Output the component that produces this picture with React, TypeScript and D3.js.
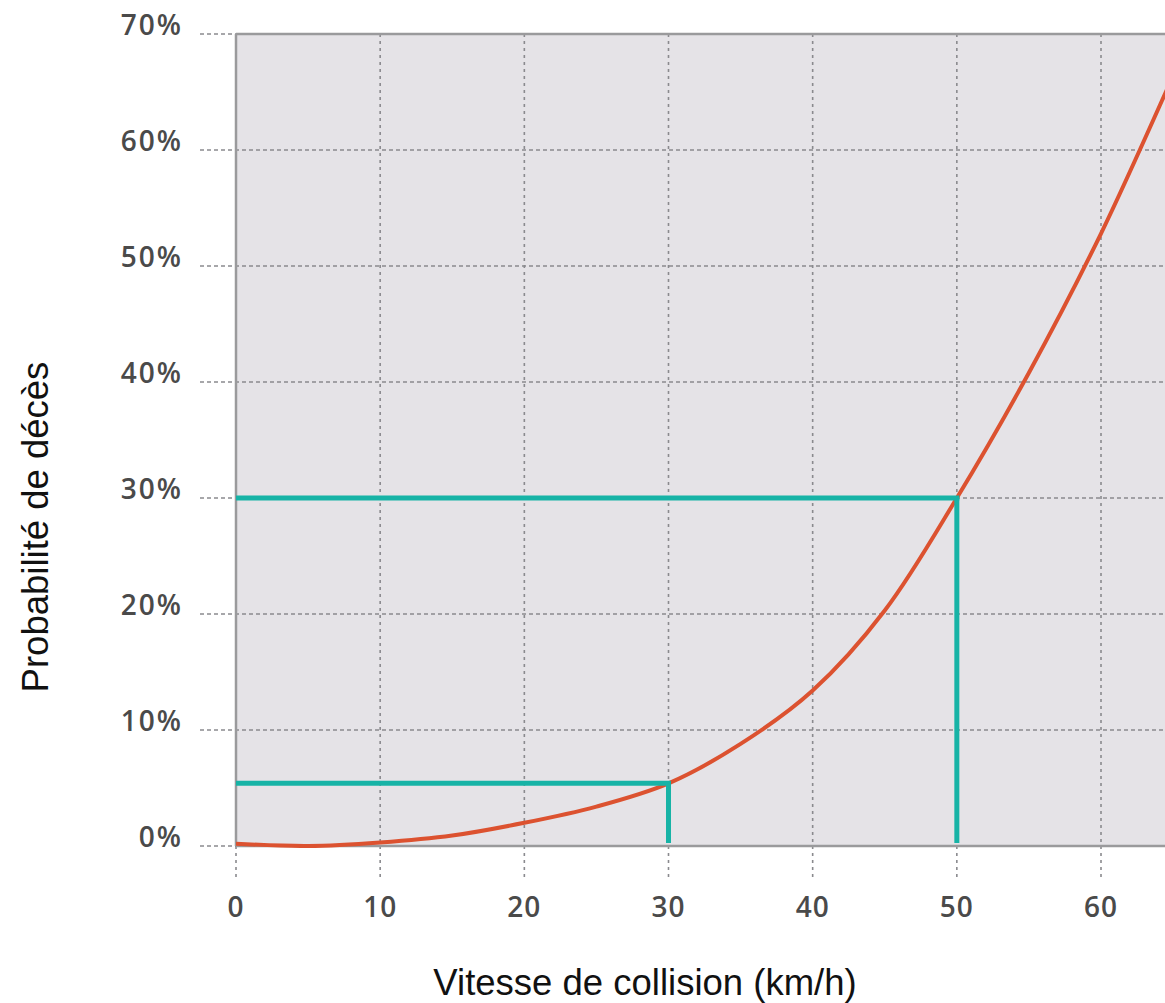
import React from "react";
import * as d3 from "d3";

const speeds = [0, 5, 10, 15, 20, 25, 30, 35, 40, 45, 50, 55, 60, 65, 66];
const probs = [0.2, 0.0, 0.3, 0.9, 2.0, 3.4, 5.4, 8.8, 13.4, 20.3, 30.0, 40.8, 52.8, 66.4, 69.2];
const xTicks = [0, 10, 20, 30, 40, 50, 60];
const yTicks = [0, 10, 20, 30, 40, 50, 60, 70];
const markers = [
  { speed: 30, prob: 5.4 },
  { speed: 50, prob: 30 },
];

const W = 1165;
const H = 1003;

export default function App() {
  const x = d3.scaleLinear().domain([0, 60]).range([236, 1101]);
  const y = d3.scaleLinear().domain([0, 70]).range([846, 34]);
  const xMax = 66;
  const data = speeds.map((s, i) => [s, probs[i]] as [number, number]);
  const line = d3
    .line<[number, number]>()
    .x((d) => x(d[0]))
    .y((d) => y(d[1]))
    .curve(d3.curveCatmullRom.alpha(0.5));

  const gridColor = "#8a8a8e";
  const tickFont = "'Open Sans', 'Liberation Sans', Arial, sans-serif";

  return (
    <svg
      width={W}
      height={H}
      style={{ position: "absolute", left: 0, top: 0, background: "#fff" }}
    >
      <defs>
        <clipPath id="plotclip">
          <rect x={x(0)} y={y(70) - 2} width={x(xMax) - x(0)} height={y(0) - y(70) + 4} />
        </clipPath>
      </defs>
      <rect x={x(0)} y={y(70)} width={x(xMax) - x(0)} height={y(0) - y(70)} fill="#e5e3e7" />
      {/* horizontal grid */}
      {yTicks.map((t) => (
        <line
          key={"h" + t}
          x1={200}
          x2={x(xMax)}
          y1={y(t)}
          y2={y(t)}
          stroke={gridColor}
          strokeWidth={1.6}
          strokeDasharray="4 3"
        />
      ))}
      {/* vertical grid */}
      {xTicks.map((t) => (
        <line
          key={"v" + t}
          x1={x(t)}
          x2={x(t)}
          y1={y(70)}
          y2={880}
          stroke={gridColor}
          strokeWidth={1.6}
          strokeDasharray="3 4"
        />
      ))}
      {/* frame */}
      <line x1={x(0)} x2={x(xMax)} y1={y(70)} y2={y(70)} stroke="#9a9a9c" strokeWidth={2.5} />
      <line x1={x(0)} x2={x(xMax)} y1={y(0)} y2={y(0)} stroke="#9a9a9c" strokeWidth={2.5} />
      <line x1={x(0)} x2={x(0)} y1={y(70)} y2={y(0)} stroke="#9a9a9c" strokeWidth={2.5} />
      {/* curve */}
      <path
        d={line(data) || ""}
        fill="none"
        stroke="#dc5230"
        strokeWidth={4}
        clipPath="url(#plotclip)"
      />
      {/* teal markers */}
      {markers.map((m, i) => (
        <g key={"m" + i} stroke="#17b3a6" strokeWidth={5} fill="none">
          <line x1={x(0)} x2={x(m.speed) + 2.5} y1={y(m.prob)} y2={y(m.prob)} />
          <line x1={x(m.speed)} x2={x(m.speed)} y1={y(m.prob)} y2={y(0) - 3} />
        </g>
      ))}
      {/* y tick labels */}
      {yTicks.map((t) => (
        <text
          key={"yl" + t}
          x={183}
          y={y(t) + 1}
          textAnchor="end"
          fontFamily={tickFont}
          fontSize={28}
          fontWeight={600}
          letterSpacing={2}
          fill="#4a4a4a"
        >
          {t + "%"}
        </text>
      ))}
      {/* x tick labels */}
      {xTicks.map((t) => (
        <text
          key={"xl" + t}
          x={x(t)}
          y={917}
          textAnchor="middle"
          fontFamily={tickFont}
          fontSize={28}
          fontWeight={600}
          letterSpacing={1}
          fill="#4a4a4a"
        >
          {t}
        </text>
      ))}
      {/* axis titles */}
      <text
        x={645}
        y={995}
        textAnchor="middle"
        fontFamily="'Liberation Sans', Arial, sans-serif"
        fontSize={36.5}
        fill="#111"
      >
        Vitesse de collision (km/h)
      </text>
      <text
        transform={`translate(48, 527) rotate(-90)`}
        textAnchor="middle"
        fontFamily="'Liberation Sans', Arial, sans-serif"
        fontSize={36.5}
        fill="#111"
      >
        Probabilité de décès
      </text>
    </svg>
  );
}
